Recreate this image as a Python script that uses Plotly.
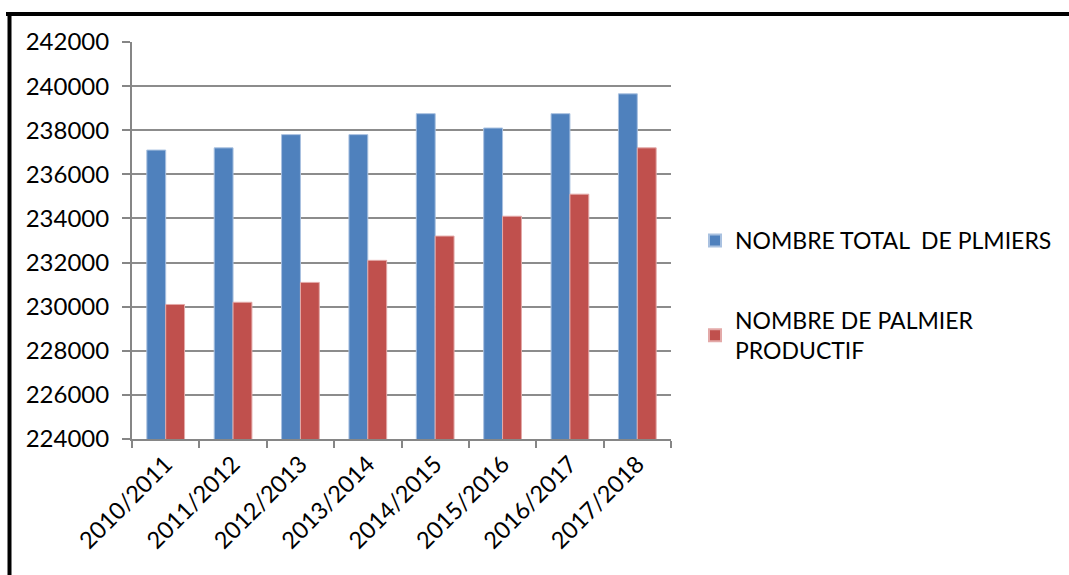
import plotly.graph_objects as go

# Campagnes agricoles
campagnes = ["2010/2011", "2011/2012", "2012/2013", "2013/2014",
             "2014/2015", "2015/2016", "2016/2017", "2017/2018"]

# Nombre total de palmiers par campagne
total_palmiers = [237100, 237200, 237800, 237800, 238750, 238100, 238750, 239650]

# Nombre de palmiers productifs par campagne
palmiers_productifs = [230100, 230200, 231100, 232100, 233200, 234100, 235100, 237200]

nom_total = "NOMBRE TOTAL  DE PLMIERS"
nom_productif = "NOMBRE DE PALMIER<br>PRODUCTIF"

FONT = "Lato"
W, H = 1069, 575
L, R, T, B = 132, 398, 42, 136
pw, ph = W - L - R, H - T - B

fig = go.Figure()
fig.add_trace(go.Bar(
    x=campagnes, y=total_palmiers, name=nom_total,
    marker=dict(color="#4F81BD", line=dict(color="#A9C1E0", width=1)),
    legendgroup="a",
))
fig.add_trace(go.Bar(
    x=campagnes, y=palmiers_productifs, name=nom_productif,
    marker=dict(color="#C0504D", line=dict(color="#E3A9A8", width=1)),
    legendgroup="b",
))


def px_x(px):
    return (px - L) / pw


def px_y(py):
    return 1 - (py - T) / ph


# Cadre noir (haut et gauche)
fig.add_shape(type="line", xref="paper", yref="paper",
              x0=px_x(6), x1=px_x(1075), y0=px_y(14), y1=px_y(14),
              line=dict(color="black", width=4))
fig.add_shape(type="line", xref="paper", yref="paper",
              x0=px_x(9.5), x1=px_x(9.5), y0=px_y(12), y1=px_y(580),
              line=dict(color="black", width=4))

fig.update_layout(
    width=W, height=H,
    margin=dict(l=L, r=R, t=T, b=B, autoexpand=False),
    paper_bgcolor="white", plot_bgcolor="white",
    barmode="group", bargap=0.44, bargroupgap=0,
    font=dict(family=FONT, color="black", size=23),
    showlegend=True,
    legend=dict(
        x=px_x(695), y=px_y(219), xanchor="left", yanchor="top",
        font=dict(family=FONT, size=23, color="black"),
        tracegroupgap=47, itemsizing="constant",
        traceorder="grouped",
    ),
    xaxis=dict(
        type="category", tickangle=-45,
        showline=True, linecolor="#868686", linewidth=2,
        ticks="outside", ticklen=7, tickcolor="#868686", tickwidth=2,
        tickson="boundaries", showgrid=False,
        tickfont=dict(family=FONT, size=23.5, color="black"),
    ),
    yaxis=dict(
        range=[224000, 242000], dtick=2000, tick0=224000, tickformat="d",
        showline=True, linecolor="#868686", linewidth=2,
        ticks="outside", ticklen=8, tickcolor="#868686", tickwidth=2,
        showgrid=True, gridcolor="#8C8C8C", gridwidth=2,
        zeroline=False, ticklabelstandoff=8,
        tickfont=dict(family=FONT, size=24, color="black"),
    ),
)

fig.write_html("out.html")
